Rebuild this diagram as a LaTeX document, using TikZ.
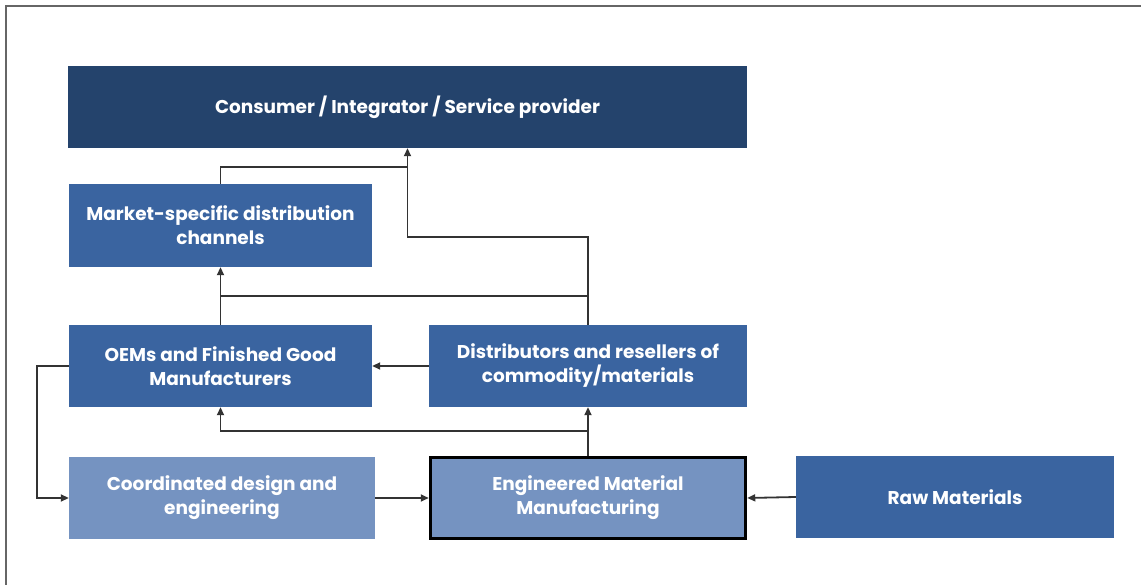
\documentclass[tikz,border=0pt]{standalone}
\usepackage{fontspec}
\setmainfont{Poppins}
\usetikzlibrary{arrows.meta,calc}
\definecolor{navy}{HTML}{24436C}
\definecolor{midblue}{HTML}{3A64A0}
\definecolor{lightblue}{HTML}{7593C1}
\definecolor{conncol}{HTML}{333333}
\definecolor{framecol}{HTML}{666666}
\begin{document}
\begin{tikzpicture}[x=1pt,y=-1pt,
  box/.style={fill=midblue, draw=none, text=white, align=center,
    font=\fontsize{18.5}{24}\selectfont\bfseries, inner sep=0pt},
  conn/.style={draw=conncol, line width=1.8pt},
  arr/.style={conn, -{Triangle[length=8pt,width=7pt]}}]
\useasboundingbox (0,0) rectangle (1141,585);
\draw[framecol, line width=2.5pt] (6,585) -- (6,6) -- (1141,6);

\node[box, fill=navy, minimum width=679pt, minimum height=82pt] (consumer) at (407.5,107) {Consumer / Integrator / Service provider};
\node[box, minimum width=303pt, minimum height=83pt] (market) at (220.5,225.5) {Market-specific distribution\\channels};
\node[box, minimum width=303pt, minimum height=82pt] (oem) at (220.5,366) {OEMs and Finished Good\\Manufacturers};
\node[box, minimum width=318pt, minimum height=82pt] (dist) at (588,366) {Distributors and resellers of\\commodity/materials};
\node[box, fill=lightblue, minimum width=306pt, minimum height=82pt] (coord) at (222,498) {Coordinated design and\\engineering};
\node[box, fill=lightblue, draw=black, line width=3.5pt, minimum width=315pt, minimum height=81pt] (eng) at (588,498) {Engineered Material\\Manufacturing};
\node[box, minimum width=318pt, minimum height=82pt] (raw) at (955,497) {Raw Materials};

\coordinate (j1) at (407.5,237);
\coordinate (j0) at (407.5,167);
\coordinate (j2) at (220.5,296);
\coordinate (j3) at (220.5,431);
\coordinate (j4) at (37,366);

\draw[arr] (dist.north) |- (j1) -- (consumer.south);
\draw[conn] (market.north) |- (j0);
\draw[arr] (dist.north) |- (j2) -- (market.south);
\draw[conn] (oem.north) -- (j2);
\draw[arr] (dist.west) -- (oem.east);
\draw[arr] (eng.north) -- (dist.south);
\draw[arr] (eng.north) |- (j3) -- (oem.south);
\draw[arr] (oem.west) -- (j4) |- (coord.west);
\draw[arr] (coord.east) -- (eng.west);
\draw[arr] (raw.west) -- (eng.east);
\end{tikzpicture}
\end{document}
